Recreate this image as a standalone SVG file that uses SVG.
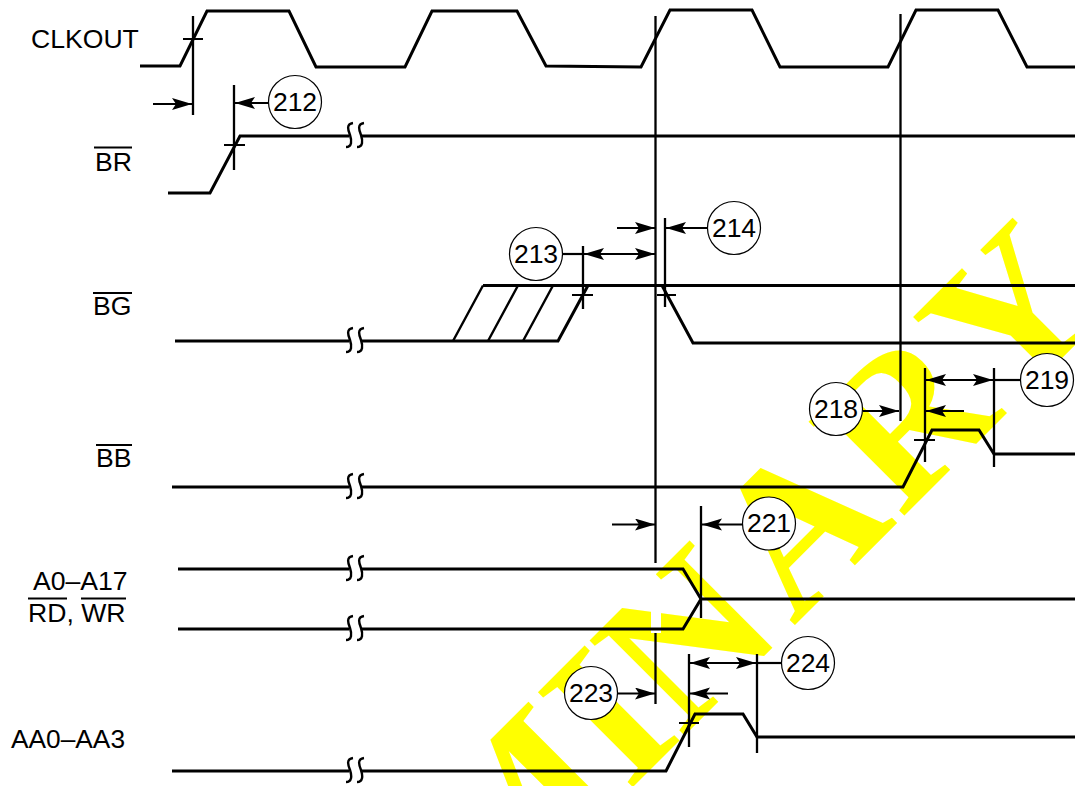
<svg xmlns="http://www.w3.org/2000/svg" xmlns:xlink="http://www.w3.org/1999/xlink" width="1075" height="786" viewBox="0 0 1075 786">
<style>
text{font-family:"Liberation Sans",Arial,sans-serif;font-size:26.6px;fill:#000}
.n{text-anchor:middle;font-size:26.5px}
.wm{font-family:"Liberation Serif","Times New Roman",serif;font-weight:bold;font-size:205px;fill:#ff0}
.s{fill:none;stroke:#000;stroke-width:3;stroke-linejoin:miter}
.v{fill:none;stroke:#000;stroke-width:2.3}
.t{fill:none;stroke:#000;stroke-width:1.8}
.a{fill:none;stroke:#000;stroke-width:2.2;marker-end:url(#ah)}
.d{fill:none;stroke:#000;stroke-width:2.2;marker-end:url(#ah);marker-start:url(#as)}
.o{fill:none;stroke:#000;stroke-width:2.2}
.c{fill:#fff;stroke:#000;stroke-width:1.2}
.b{fill:none;stroke:#000;stroke-width:2.4}
</style>
<defs>
<marker id="ah" markerUnits="userSpaceOnUse" markerWidth="22" markerHeight="14" refX="20" refY="6" orient="auto"><path d="M0,0 L20,6 L0,12 L4,6 Z" fill="#000"/></marker>
<marker id="as" markerUnits="userSpaceOnUse" markerWidth="22" markerHeight="14" refX="0" refY="6" orient="auto"><path d="M20,0 L0,6 L20,12 L16,6 Z" fill="#000"/></marker>
<path id="brk" class="b" d="M7,-13 C0,-12 2,-6 4,-1 C6,5 6,11 0,11 M18,-13 C11,-12 13,-6 15,-1 C17,5 17,11 11,11"/>
</defs>
<rect width="1075" height="786" fill="#fff"/>
<g id="watermark">
<text class="wm" transform="translate(710,710) rotate(-45)" x="-310 -116 -40 118 270 418" y="0">MINARY</text>
<rect x="651" y="605" width="10" height="28" fill="#fff"/>
</g>
<g id="connectors">
<path class="v" d="M193,16V115M234,85V170M655.5,16V563M655.5,633V704M900.5,14V421M583,246V309M665,218V307M925,368V462M994,368V467M701,506V618M689,654V747M757,654V753"/>
<path class="t" d="M183,39H203M224,145H245M572,295H593M657,295H676M914,440H935M679,723H699"/>
<path class="a" d="M153,104H192"/>
<path class="a" d="M270,103H235"/>
<path class="a" d="M617,228H655"/>
<path class="a" d="M708,228H666"/>
<path class="d" d="M584,254H655"/>
<path class="o" d="M562,254H583"/>
<path class="a" d="M863,411H899"/>
<path class="d" d="M926,380H993"/>
<path class="o" d="M994,380H1021"/>
<path class="a" d="M964,411H926"/>
<path class="a" d="M612,524.5H655"/>
<path class="a" d="M745,524.5H702"/>
<path class="d" d="M690,663H756"/>
<path class="o" d="M757,663H782"/>
<path class="a" d="M618,693.5H655"/>
<path class="a" d="M728,693.5H690"/>
</g>
<g id="sig-clkout">
<path class="s" d="M140,66H180L207,11H289L316,67H405L432,11H517L546,66L641,67L670,10H752L780,67H888L916,10H998L1027,67H1075"/>
<text x="31" y="48">CLKOUT</text>
</g>
<g id="sig-br">
<path class="s" d="M168,193H210L240,136H349M361,136H1075"/>
<use xlink:href="#brk" href="#brk" x="346" y="136"/>
<path class="t" d="M94,147.500H132"/>
<text x="95" y="171">BR</text>
</g>
<g id="sig-bg">
<path class="s" d="M175,341H349M361,341H558L588,285.500M483,285.500H1075M662,285.500L693,343H1075"/>
<path class="s" style="stroke-width:2.4" d="M453,341L483,285.500M488,341L518,285.500M523,341L553,285.500"/>
<use xlink:href="#brk" href="#brk" x="346" y="341"/>
<path class="t" d="M93,293H132"/>
<text x="93" y="315">BG</text>
</g>
<g id="sig-bb">
<path class="s" d="M172,487H349M361,487H903L932,430H979L994,454H1075"/>
<use xlink:href="#brk" href="#brk" x="346" y="487"/>
<path class="t" d="M96,445H132"/>
<text x="96" y="467">BB</text>
</g>
<g id="sig-addr">
<path class="s" d="M178,569H349M361,569H683L701,599L683,629H361M349,629H178M701,599H1075"/>
<use xlink:href="#brk" href="#brk" x="346" y="569"/>
<use xlink:href="#brk" href="#brk" x="346" y="629"/>
<path class="t" d="M28,598.500H67M81,598.500H126"/>
<text x="33" y="590">A0–A17</text>
<text x="28" y="622">RD, WR</text>
</g>
<g id="sig-aa">
<path class="s" d="M172,771H349M361,771H666L695,714H743L757,737H1075"/>
<use xlink:href="#brk" href="#brk" x="346" y="771"/>
<text x="11" y="748" style="font-size:26.3px">AA0–AA3</text>
</g>
<g id="n212"><circle class="c" cx="295" cy="102" r="26.500"/><text class="n" x="295" y="110.500">212</text></g>
<g id="n213"><circle class="c" cx="536" cy="254" r="26.500"/><text class="n" x="536" y="262.500">213</text></g>
<g id="n214"><circle class="c" cx="734" cy="228" r="26.500"/><text class="n" x="734" y="236.500">214</text></g>
<g id="n218"><circle class="c" cx="836" cy="409" r="26.500"/><text class="n" x="836" y="417.500">218</text></g>
<g id="n219"><circle class="c" cx="1047" cy="380" r="26.500"/><text class="n" x="1047" y="388.500">219</text></g>
<g id="n221"><circle class="c" cx="769" cy="523.500" r="26.500"/><text class="n" x="769" y="532">221</text></g>
<g id="n223"><circle class="c" cx="591" cy="693" r="26.500"/><text class="n" x="591" y="701.500">223</text></g>
<g id="n224"><circle class="c" cx="808" cy="663" r="26.500"/><text class="n" x="808" y="671.500">224</text></g>
</svg>
